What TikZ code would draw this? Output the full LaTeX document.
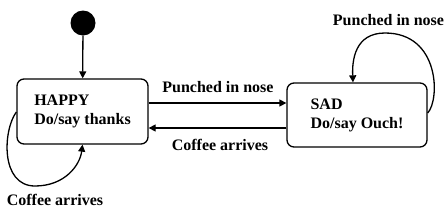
\documentclass[tikz,border=0pt]{standalone}
\usepackage{fontspec}
\setmainfont{Liberation Serif}
\usetikzlibrary{arrows.meta}
\begin{document}
\begin{tikzpicture}[x=1pt,y=-1pt,
  lab/.style={font=\fontsize{16}{18}\selectfont\bfseries, anchor=base, inner sep=0pt},
  state/.style={draw, line width=1.3pt, rounded corners=7pt, align=left,
    font=\fontsize{16}{19}\selectfont\bfseries},
  conn/.style={line width=1.3pt, -{Triangle[width=7pt,length=7pt]}}]
\useasboundingbox (0,0) rectangle (447,215);
\node[circle, fill=black, minimum size=25pt, inner sep=0pt] (init) at (83,23) {};
\node[state, minimum height=65pt, minimum width=131pt] (happy) at (82.5,111.5) {HAPPY\\Do/say thanks};
\node[state, minimum height=64pt, minimum width=140pt] (sad) at (357,115) {SAD\\Do/say Ouch!};
\draw[conn] (init) -- (happy);
\draw[conn] ([yshift=8.5pt]happy.east) -- ([yshift=12pt]sad.west);
\draw[conn] ([yshift=-13pt]sad.west) -- ([yshift=-16.5pt]happy.east);
\draw[conn] ([yshift=-0.5pt]happy.west) .. controls (3,130) and (0,186) .. (35,186)
   .. controls (65,186) and (80,165) .. (happy.south);
\draw[conn] ([yshift=2pt]sad.east) .. controls (440,100) and (440,33) .. (385,33)
   .. controls (355,33) and (352,60) .. ([xshift=-4pt]sad.north);
\node[lab] (l1) at (218,92) {Punched in nose};
\node[lab] (l2) at (220,150) {Coffee arrives};
\node[lab] (l3) at (388.5,25) {Punched in nose};
\node[lab] (l4) at (55,205) {Coffee arrives};
\end{tikzpicture}
\end{document}
